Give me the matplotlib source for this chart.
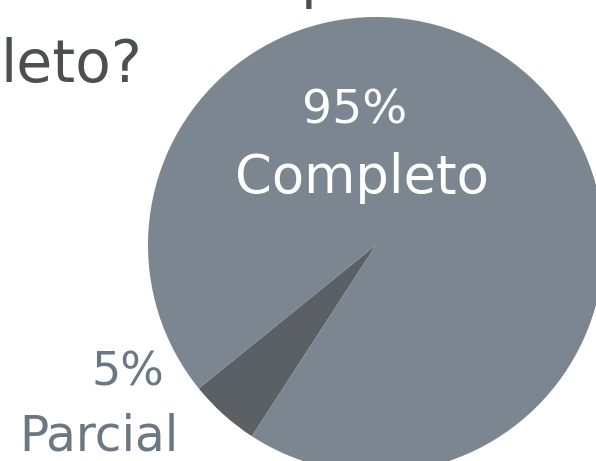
import matplotlib.pyplot as plt

labels = ['Parcial', 'Completo']
values = [5, 95]
colors = ['#5b6064', '#7b8690']

W, H = 596, 461


def fx(px):
    return px / W


def fy(py):
    return 1 - py / H


fig = plt.figure(figsize=(W / 100, H / 100), dpi=100)
fig.patch.set_facecolor('white')

# pie axes: circle centre (376, 245), radius 228 px
r = 228
ax = fig.add_axes([fx(376 - r), fy(245 + r), 2 * r / W, 2 * r / H])
ax.pie(values, colors=colors, startangle=219, counterclock=True,
       radius=1, wedgeprops={'linewidth': 0})
ax.set_xlim(-1, 1)
ax.set_ylim(-1, 1)
ax.set_aspect('auto')
ax.axis('off')

font = 'DejaVu Sans'
title_color = '#4b4f52'
# first title line runs off the top of the crop
fig.text(fx(338), fy(-3), '¿Está tu formulario comp', ha='right', va='baseline',
         fontsize=42, color=title_color, family=font)
fig.text(fx(0), fy(82), 'leto?', ha='left', va='baseline',
         fontsize=42, color=title_color, family=font)

fig.text(fx(355), fy(123), f'{values[1]}%', ha='center', va='baseline',
         fontsize=34, color='white', family=font)
fig.text(fx(362), fy(193), labels[1], ha='center', va='baseline',
         fontsize=38, color='white', family=font)

label_color = '#6b7782'
fig.text(fx(164), fy(385), f'{values[0]}%', ha='right', va='baseline',
         fontsize=33, color=label_color, family=font)
fig.text(fx(178), fy(450), labels[0], ha='right', va='baseline',
         fontsize=35, color=label_color, family=font)

fig.savefig('out.png', dpi=100)
